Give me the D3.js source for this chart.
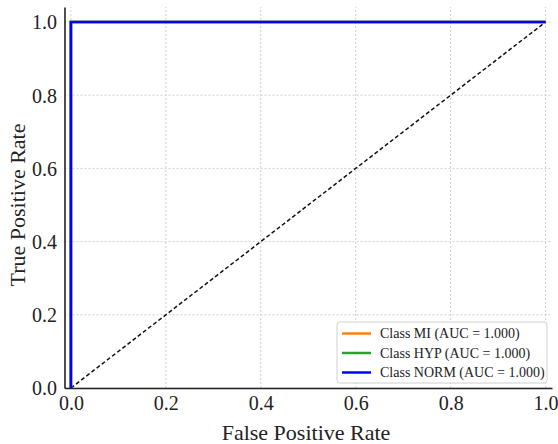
<!DOCTYPE html>
<html>
<head>
<meta charset="utf-8">
<script src="https://cdn.jsdelivr.net/npm/d3@7"></script>
<style>
  body { margin: 0; background: #fff; }
  svg text { font-family: "Liberation Serif", "Times New Roman", serif; fill: #222; }
  .grid line { stroke: #cfcfcf; stroke-dasharray: 2,2; stroke-width: 1; }
</style>
</head>
<body>
<div id="chart"></div>
<script>
// ROC data
const classNames = ["MI", "HYP", "NORM"];
const aucValues = [1.000, 1.000, 1.000];
const classColors = ["#ff7f0e", "#2ca02c", "#0000ff"];
const rocMI = [[0, 0], [0, 1], [1, 1]];
const rocHYP = [[0, 0], [0, 1], [1, 1]];
const rocNORM = [[0, 0], [0, 1], [1, 1]];
const chanceLine = [[0, 0], [1, 1]];
const tickValues = [0, 0.2, 0.4, 0.6, 0.8, 1.0];

const rocCurves = [rocMI, rocHYP, rocNORM];

const w = 558, h = 444;
const margin = { top: 7, right: 6, bottom: 56, left: 64.5 };

const svg = d3.select("#chart").append("svg")
    .attr("width", w)
    .attr("height", h);

// SCALES
const x = d3.scaleLinear()
    .domain([-0.0135, 1.0135])
    .range([margin.left, w - margin.right]);

const y = d3.scaleLinear()
    .domain([0, 1.041])
    .range([h - margin.bottom, margin.top]);

// GRID
svg.append("g").attr("class", "grid")
    .selectAll("line").data(tickValues).enter().append("line")
    .attr("x1", d => x(d)).attr("x2", d => x(d))
    .attr("y1", y.range()[0]).attr("y2", y.range()[1]);

svg.append("g").attr("class", "grid")
    .selectAll("line").data(tickValues).enter().append("line")
    .attr("y1", d => y(d)).attr("y2", d => y(d))
    .attr("x1", x.range()[0]).attr("x2", x.range()[1]);

// LINES
const line = d3.line()
    .x(d => x(d[0]))
    .y(d => y(d[1]));

svg.append("path")
    .datum(chanceLine)
    .attr("d", line)
    .attr("fill", "none")
    .attr("stroke", "#111")
    .attr("stroke-width", 1.5)
    .attr("stroke-dasharray", "4,2.5");

svg.selectAll(".roc").data(rocCurves).enter().append("path")
    .attr("class", "roc")
    .attr("d", line)
    .attr("fill", "none")
    .attr("stroke", (d, i) => classColors[i])
    .attr("stroke-width", 2.6);

// AXES
const xAxis = svg.append("g")
    .attr("transform", "translate(0," + y(0) + ")")
    .call(d3.axisBottom(x).tickValues(tickValues).tickFormat(d3.format(".1f")).tickSize(0).tickPadding(8));

const yAxis = svg.append("g")
    .attr("transform", "translate(" + margin.left + ",0)")
    .call(d3.axisLeft(y).tickValues(tickValues).tickFormat(d3.format(".1f")).tickSize(0).tickPadding(7.5));

[xAxis, yAxis].forEach(a => {
    a.attr("font-family", null).attr("font-size", null);
    a.select(".domain").attr("stroke", "#222").attr("stroke-width", 1.6);
    a.selectAll("text")
        .style("font-family", "'Liberation Serif', serif")
        .style("font-size", "20px")
        .attr("fill", "#222");
});
yAxis.selectAll("text").attr("dy", "0.34em");
xAxis.selectAll("text").attr("dy", "0.71em");

// AXES LABELS
svg.append("text")
    .text("False Positive Rate")
    .attr("x", 306).attr("y", 440)
    .style("text-anchor", "middle")
    .style("font-size", "22px");

svg.append("text")
    .text("True Positive Rate")
    .attr("transform", "translate(25," + (y(0.5)) + ") rotate(-90)")
    .style("text-anchor", "middle")
    .style("font-size", "22px");

// LEGEND
const legend = svg.append("g").attr("transform", "translate(337,322)");
legend.append("rect")
    .attr("width", 210).attr("height", 61)
    .attr("rx", 3)
    .attr("fill", "#fff").attr("fill-opacity", 0.85)
    .attr("stroke", "#d0d0d0");

const items = legend.selectAll(".item").data(classNames).enter().append("g")
    .attr("transform", (d, i) => "translate(0," + (11.5 + i * 19.5) + ")");
items.append("line")
    .attr("x1", 5).attr("x2", 34)
    .attr("stroke", (d, i) => classColors[i])
    .attr("stroke-width", 2.5);
items.append("text")
    .attr("x", 43).attr("dy", "0.35em")
    .style("font-size", "14px")
    .text((d, i) => "Class " + d + " (AUC = " + aucValues[i].toFixed(3) + ")");
</script>
</body>
</html>
